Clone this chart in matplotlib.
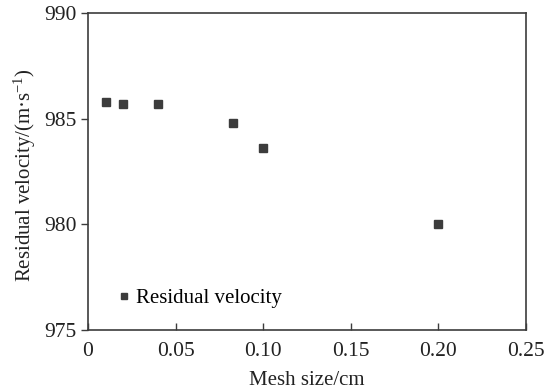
import matplotlib.pyplot as plt

plt.rcParams["font.family"] = ["Liberation Serif", "DejaVu Serif"]
plt.rcParams["mathtext.fontset"] = "custom"
plt.rcParams["mathtext.rm"] = "Liberation Serif"
plt.rcParams["mathtext.it"] = "Liberation Serif:italic"

# mesh size (cm) vs residual velocity (m/s)
mesh_size = [0.01, 0.02, 0.04, 0.083, 0.10, 0.20]
residual_velocity = [985.79, 985.68, 985.68, 984.78, 983.63, 980.02]

dark = "#3c3c3c"
txt = "#222222"

fig = plt.figure(figsize=(5.49, 3.92), dpi=100)
ax = fig.add_axes([88 / 549, 1 - 330 / 392, (526 - 88) / 549, (330 - 13) / 392])

ax.plot(mesh_size, residual_velocity, ls="none", marker="s", ms=6,
        color=dark, mec=dark, label="Residual velocity")

ax.set_xlim(0, 0.25)
ax.set_ylim(975, 990)
ax.set_xticks([0, 0.05, 0.10, 0.15, 0.20, 0.25])
ax.set_xticklabels(["0", "0.05", "0.10", "0.15", "0.20", "0.25"])
ax.set_yticks([975, 980, 985, 990])

ax.tick_params(axis="x", direction="in", length=5, width=1, colors=dark,
               labelcolor=txt, labelsize=15.5, pad=9)
ax.tick_params(axis="y", direction="out", length=5, width=1, colors=dark,
               labelcolor=txt, labelsize=15.5, pad=3)
for s in ax.spines.values():
    s.set_color(dark)
    s.set_linewidth(1.2)

ax.set_xlabel("Mesh size/cm", fontsize=15, color=txt, labelpad=7)
ax.set_ylabel(r"Residual velocity/(m·s$^{-1}$)", fontsize=15, color=txt)
ax.yaxis.set_label_coords(-0.114, 0.49)

ax.legend(loc="lower left", bbox_to_anchor=(0.044, 0.042), frameon=False,
          fontsize=15, handletextpad=0.2, borderaxespad=0, markerscale=0.8,
          handlelength=0.8)

fig.savefig("out.png", dpi=100)
